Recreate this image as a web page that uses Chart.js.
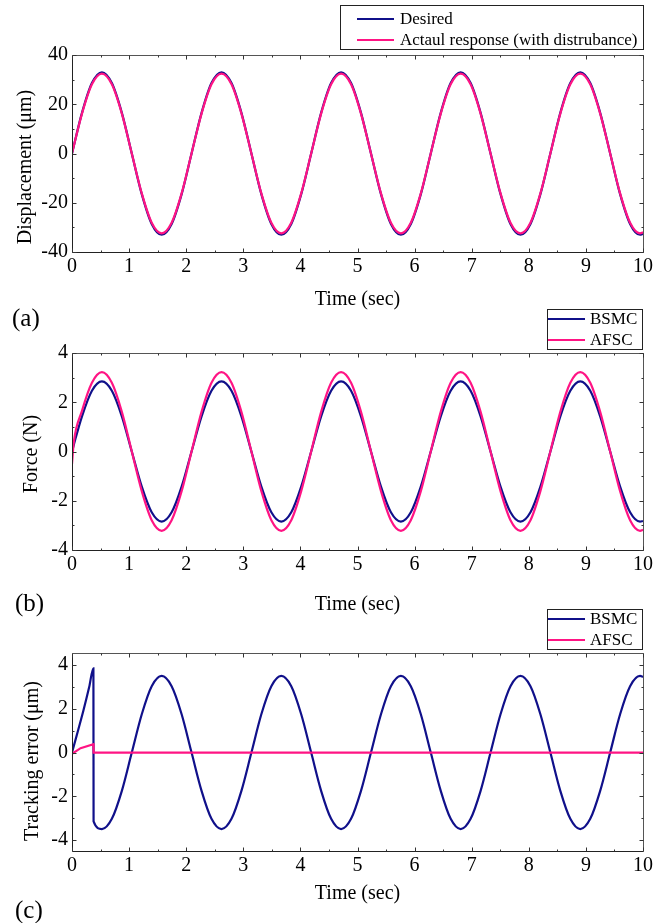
<!DOCTYPE html>
<html><head><meta charset="utf-8">
<script src="https://cdn.jsdelivr.net/npm/chart.js@4/dist/chart.umd.min.js"></script>
<style>
html,body{margin:0;padding:0;background:#fff;}
#wrap{position:relative;width:670px;height:923px;overflow:hidden;}
canvas{position:absolute;left:0;top:0;}
</style></head><body>
<div id="wrap">
<canvas id="ca" width="670" height="923"></canvas>
<canvas id="cb" width="670" height="923"></canvas>
<canvas id="cc" width="670" height="923"></canvas>
</div>
<script>
// ---------- data ----------
const timeDisp = [0,0.175,0.349,0.524,0.698,0.873,1.047,1.222,1.396,1.571,1.745,1.920,2.094,2.269,2.443,2.618,2.793,2.967,3.142,3.316,3.491,3.665,3.840,4.014,4.189,4.363,4.538,4.712,4.887,5.061,5.236,5.411,5.585,5.760,5.934,6.109,6.283,6.458,6.632,6.807,6.981,7.156,7.330,7.505,7.679,7.854,8.029,8.203,8.378,8.552,8.727,8.901,9.076,9.250,9.425,9.599,9.774,9.948,10];
const desired = [0,16.5,28.6,33,28.6,16.5,0,-16.5,-28.6,-33,-28.6,-16.5,
  0,16.5,28.6,33,28.6,16.5,0,-16.5,-28.6,-33,-28.6,-16.5,
  0,16.5,28.6,33,28.6,16.5,0,-16.5,-28.6,-33,-28.6,-16.5,
  0,16.5,28.6,33,28.6,16.5,0,-16.5,-28.6,-33,-28.6,-16.5,
  0,16.5,28.6,33,28.6,16.5,0,-16.5,-28.6,-33,-32.6];
const actual = [0,16.2,28.1,32.4,28.1,16.2,0,-16.2,-28.1,-32.4,-28.1,-16.2,
  0,16.2,28.1,32.4,28.1,16.2,0,-16.2,-28.1,-32.4,-28.1,-16.2,
  0,16.2,28.1,32.4,28.1,16.2,0,-16.2,-28.1,-32.4,-28.1,-16.2,
  0,16.2,28.1,32.4,28.1,16.2,0,-16.2,-28.1,-32.4,-28.1,-16.2,
  0,16.2,28.1,32.4,28.1,16.2,0,-16.2,-28.1,-32.4,-32.0];

const timeForce = [0,0.03,0.175,0.349,0.524,0.698,0.873,1.047,1.222,1.396,1.571,1.745,1.920,2.094,2.269,2.443,2.618,2.793,2.967,3.142,3.316,3.491,3.665,3.840,4.014,4.189,4.363,4.538,4.712,4.887,5.061,5.236,5.411,5.585,5.760,5.934,6.109,6.283,6.458,6.632,6.807,6.981,7.156,7.330,7.505,7.679,7.854,8.029,8.203,8.378,8.552,8.727,8.901,9.076,9.250,9.425,9.599,9.774,9.948,10];
const forceBSMC = [0,0.26,1.43,2.47,2.85,2.47,1.43,0,-1.43,-2.47,-2.85,-2.47,-1.43,
  0,1.43,2.47,2.85,2.47,1.43,0,-1.43,-2.47,-2.85,-2.47,-1.43,
  0,1.43,2.47,2.85,2.47,1.43,0,-1.43,-2.47,-2.85,-2.47,-1.43,
  0,1.43,2.47,2.85,2.47,1.43,0,-1.43,-2.47,-2.85,-2.47,-1.43,
  0,1.43,2.47,2.85,2.47,1.43,0,-1.43,-2.47,-2.85,-2.82];
const forceAFSC = [-0.5,0.35,1.65,2.79,3.22,2.79,1.61,0,-1.61,-2.79,-3.22,-2.79,-1.61,
  0,1.61,2.79,3.22,2.79,1.61,0,-1.61,-2.79,-3.22,-2.79,-1.61,
  0,1.61,2.79,3.22,2.79,1.61,0,-1.61,-2.79,-3.22,-2.79,-1.61,
  0,1.61,2.79,3.22,2.79,1.61,0,-1.61,-2.79,-3.22,-2.79,-1.61,
  0,1.61,2.79,3.22,2.79,1.61,0,-1.61,-2.79,-3.22,-3.18];

const timeErrBSMC = [0,0.1,0.2,0.3,0.375,0.378,0.524,0.698,0.873,1.047,1.222,1.396,1.571,1.745,1.920,2.094,2.269,2.443,2.618,2.793,2.967,3.142,3.316,3.491,3.665,3.840,4.014,4.189,4.363,4.538,4.712,4.887,5.061,5.236,5.411,5.585,5.760,5.934,6.109,6.283,6.458,6.632,6.807,6.981,7.156,7.330,7.505,7.679,7.854,8.029,8.203,8.378,8.552,8.727,8.901,9.076,9.250,9.425,9.599,9.774,9.948,10];
const errBSMC = [0,0.95,1.92,2.98,3.85,-3.15,-3.5,-3.03,-1.75,0,1.75,3.03,3.5,3.03,1.75,
  0,-1.75,-3.03,-3.5,-3.03,-1.75,0,1.75,3.03,3.5,3.03,1.75,
  0,-1.75,-3.03,-3.5,-3.03,-1.75,0,1.75,3.03,3.5,3.03,1.75,
  0,-1.75,-3.03,-3.5,-3.03,-1.75,0,1.75,3.03,3.5,3.03,1.75,
  0,-1.75,-3.03,-3.5,-3.03,-1.75,0,1.75,3.03,3.5,3.46];
const timeErrAFSC = [0,0.15,0.375,0.378,10];
const errAFSC = [-0.06,0.2,0.38,0,0];

const xTickValues = [0,1,2,3,4,5,6,7,8,9,10];
const yTicksDisp = [-40,-20,0,20,40];
const yTicksForce = [-4,-2,0,2,4];
const yTicksErr = [-4,-2,0,2,4];

const NAVY = '#10108a';
const PINK = '#ff1484';
const FONT = "'Liberation Serif','Times New Roman',serif";
Chart.defaults.font.family = FONT;
Chart.defaults.color = '#000';

const pts = (xs, ys) => xs.map((x, i) => ({x: x, y: ys[i]}));

// ---------- decoration plugin: frame, inward ticks, y title, legend, panel letter ----------
const deco = {
  id: 'deco',
  afterDraw(chart, args, o) {
    const ctx = chart.ctx, a = chart.chartArea;
    const xs = chart.scales.x, ys = chart.scales.y;
    const L = Math.round(a.left) + 0.5, R = Math.round(a.right) + 0.5;
    const T = Math.round(a.top) + 0.5, B = Math.round(a.bottom) + 0.5;
    ctx.save();
    ctx.lineWidth = 1;
    ctx.strokeStyle = '#222';
    ctx.beginPath(); ctx.moveTo(L, T); ctx.lineTo(L, B); ctx.lineTo(R, B); ctx.stroke();
    ctx.strokeStyle = '#555';
    ctx.beginPath(); ctx.moveTo(L, T); ctx.lineTo(R, T); ctx.lineTo(R, B); ctx.stroke();
    const mids = v => { const m = []; for (let i = 0; i < v.length - 1; i++) m.push((v[i] + v[i+1]) / 2); return m; };
    ctx.strokeStyle = '#333';
    ctx.beginPath();
    const xt = (vals, len) => vals.forEach(v => {
      const p = Math.round(xs.getPixelForValue(v)) + 0.5;
      ctx.moveTo(p, B); ctx.lineTo(p, B - len);
      ctx.moveTo(p, T); ctx.lineTo(p, T + len);
    });
    const yt = (vals, len) => vals.forEach(v => {
      const p = Math.round(ys.getPixelForValue(v)) + 0.5;
      ctx.moveTo(L, p); ctx.lineTo(L + len, p);
      ctx.moveTo(R, p); ctx.lineTo(R - len, p);
    });
    xt(o.xTicks, 4); xt(mids(o.xTicks), 2);
    yt(o.yTicks, 4); yt(mids(o.yTicks), 2);
    ctx.stroke();
    ctx.fillStyle = '#000';
    ctx.font = '20px ' + FONT;
    ctx.textAlign = 'center'; ctx.textBaseline = 'middle';
    ctx.save();
    ctx.translate(o.yTitle.x, o.yTitle.y);
    ctx.rotate(-Math.PI / 2);
    ctx.fillText(o.yTitle.text, 0, 0);
    ctx.restore();
    ctx.font = '25px ' + FONT;
    ctx.textAlign = 'left';
    ctx.fillText(o.panel.text, o.panel.x, o.panel.y);
    const lg = o.legend;
    ctx.strokeStyle = '#222'; ctx.lineWidth = 1;
    ctx.strokeRect(lg.x + 0.5, lg.y + 0.5, lg.w, lg.h);
    ctx.font = '17px ' + FONT;
    chart.data.datasets.forEach((ds, i) => {
      const yy = lg.rows[i];
      ctx.strokeStyle = ds.borderColor; ctx.lineWidth = 2.2;
      ctx.beginPath(); ctx.moveTo(lg.l0, yy); ctx.lineTo(lg.l1, yy); ctx.stroke();
      ctx.fillStyle = '#000';
      ctx.fillText(ds.label, lg.tx, yy + 1);
    });
    ctx.restore();
  }
};

function makeChart(id, c) {
  return new Chart(document.getElementById(id), {
    type: 'line',
    data: { datasets: c.datasets },
    plugins: [deco],
    options: {
      responsive: false, animation: false, events: [],
      layout: { padding: { top: c.top, left: 0, right: 27, bottom: 923 - (c.bottom + c.axisH) } },
      elements: { point: { radius: 0 }, line: { borderWidth: 2.2 } },
      plugins: {
        legend: { display: false }, tooltip: { enabled: false },
        deco: { xTicks: xTickValues, yTicks: c.yTicks, yTitle: c.yTitle, panel: c.panel, legend: c.legend }
      },
      scales: {
        x: {
          type: 'linear', min: 0, max: 10,
          grid: { display: false, drawTicks: false }, border: { display: false },
          afterBuildTicks: s => { s.ticks = xTickValues.map(v => ({value: v})); },
          afterFit: s => { s.height = c.axisH; },
          ticks: { font: { size: 20 }, padding: 3, maxRotation: 0, autoSkip: false },
          title: { display: true, text: 'Time (sec)', font: { size: 20 }, padding: 0 }
        },
        y: {
          type: 'linear', min: c.yMin, max: c.yMax,
          grid: { display: false, drawTicks: false }, border: { display: false },
          afterBuildTicks: s => { s.ticks = c.yTicks.map(v => ({value: v})); },
          afterFit: s => { s.width = 72; },
          ticks: { font: { size: 20 }, padding: 4, autoSkip: false }
        }
      }
    }
  });
}

makeChart('ca', {
  top: 55, bottom: 252, axisH: 60, yMin: -40, yMax: 40, yTicks: yTicksDisp,
  yTitle: { text: 'Displacement (μm)', x: 26, y: 167 },
  panel: { text: '(a)', x: 12, y: 319 },
  legend: { x: 340, y: 5, w: 303, h: 44, rows: [19, 40], l0: 357, l1: 394, tx: 400 },
  datasets: [
    { label: 'Desired', data: pts(timeDisp, desired), borderColor: NAVY, cubicInterpolationMode: 'monotone', order: 1 },
    { label: 'Actaul response (with distrubance)', data: pts(timeDisp, actual), borderColor: PINK, cubicInterpolationMode: 'monotone', order: 0 }
  ]
});

makeChart('cb', {
  top: 353, bottom: 550, axisH: 67, yMin: -4, yMax: 4, yTicks: yTicksForce,
  yTitle: { text: 'Force (N)', x: 32, y: 454 },
  panel: { text: '(b)', x: 15, y: 604 },
  legend: { x: 547, y: 309, w: 95, h: 40, rows: [319, 340], l0: 548, l1: 585, tx: 590 },
  datasets: [
    { label: 'BSMC', data: pts(timeForce, forceBSMC), borderColor: NAVY, cubicInterpolationMode: 'monotone', order: 1 },
    { label: 'AFSC', data: pts(timeForce, forceAFSC), borderColor: PINK, cubicInterpolationMode: 'monotone', order: 0 }
  ]
});

makeChart('cc', {
  top: 653, bottom: 851, axisH: 55, yMin: -4.5, yMax: 4.55, yTicks: yTicksErr,
  yTitle: { text: 'Tracking error (μm)', x: 33, y: 761 },
  panel: { text: '(c)', x: 15, y: 911 },
  legend: { x: 547, y: 609, w: 95, h: 40, rows: [619, 640], l0: 548, l1: 585, tx: 590 },
  datasets: [
    { label: 'BSMC', data: pts(timeErrBSMC, errBSMC), borderColor: NAVY, cubicInterpolationMode: 'monotone', order: 1 },
    { label: 'AFSC', data: pts(timeErrAFSC, errAFSC), borderColor: PINK, tension: 0, order: 0 }
  ]
});
</script>
</body></html>
